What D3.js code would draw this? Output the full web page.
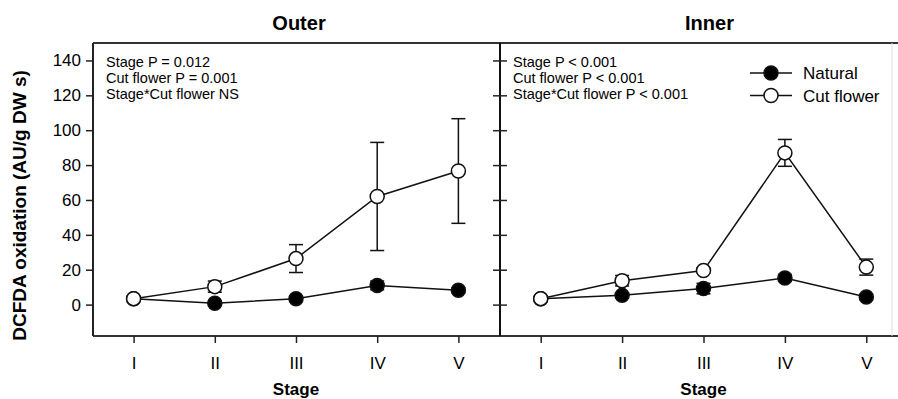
<!DOCTYPE html>
<html>
<head>
<meta charset="utf-8">
<script src="https://cdn.jsdelivr.net/npm/d3@7"></script>
<style>
  body { margin: 0; background: #fff; }
  text { font-family: "Liberation Sans", Arial, sans-serif; fill: #000; }
</style>
</head>
<body>
<svg id="chart" width="898" height="399"></svg>
<script>
// stages on the x axis
var stages = ["I", "II", "III", "IV", "V"];
var yTicks = [0, 20, 40, 60, 80, 100, 120, 140];

// Outer petals
var outerNatural = [3.4, 0.8, 3.4, 11, 8.2];
var outerNaturalErr = [0.5, 1, 1, 2.5, 1.5];
var outerCut = [3.4, 10.3, 26.4, 62, 76.6];
var outerCutErr = [0.5, 3.2, 8, 31, 30];

// Inner petals
var innerNatural = [3.4, 5.3, 9.2, 15.3, 4.4];
var innerNaturalErr = [0.5, 1.5, 3, 2, 1.5];
var innerCut = [3.4, 13.7, 19.5, 87, 21.5];
var innerCutErr = [0.5, 3, 1.5, 7.7, 4.6];

var outerStats = ["Stage P = 0.012", "Cut flower P = 0.001", "Stage*Cut flower NS"];
var innerStats = ["Stage P < 0.001", "Cut flower P < 0.001", "Stage*Cut flower P < 0.001"];

var svg = d3.select("#chart");
var top_ = 43, bottom = 336, left = 93, mid = 500, right = 907;

var y = d3.scaleLinear().domain([-18, 150]).range([bottom, top_]);

var panels = [
  {title: "Outer", x0: left, x1: mid - 1, tdx: 3, nat: outerNatural, natErr: outerNaturalErr,
   cut: outerCut, cutErr: outerCutErr, stats: outerStats},
  {title: "Inner", x0: mid, x1: right, tdx: 6, nat: innerNatural, natErr: innerNaturalErr,
   cut: innerCut, cutErr: innerCutErr, stats: innerStats}
];

// frame lines
svg.append("line").attr("x1", left).attr("x2", 898).attr("y1", top_).attr("y2", top_)
  .attr("stroke", "#333").attr("stroke-width", 2);
svg.append("line").attr("x1", left).attr("x2", 898).attr("y1", bottom).attr("y2", bottom)
  .attr("stroke", "#333").attr("stroke-width", 2);
svg.append("line").attr("x1", 892).attr("x2", 892).attr("y1", top_).attr("y2", bottom)
  .attr("stroke", "#ddd").attr("stroke-width", 1);

// left y axis
var yAxis = d3.axisLeft(y).tickValues(yTicks).tickSize(7).tickPadding(5);
var ga = svg.append("g").attr("transform", "translate(" + left + ",0)").call(yAxis);
ga.select(".domain").attr("stroke", "#222").attr("stroke-width", 2).attr("d", "M0," + top_ + "V" + bottom);
ga.selectAll(".tick line").attr("stroke", "#222").attr("stroke-width", 1.5);
ga.selectAll(".tick text").style("font-size", "17px").attr("font-family", null);

// middle axis with crossing ticks
var yAxis2 = d3.axisLeft(y).tickValues(yTicks).tickSizeInner(-7).tickSizeOuter(0).tickFormat("");
var gm = svg.append("g").attr("transform", "translate(" + mid + ",0)").call(yAxis2);
gm.select(".domain").attr("stroke", "#111").attr("stroke-width", 2).attr("d", "M0," + top_ + "V" + bottom);
gm.selectAll(".tick line").attr("stroke", "#222").attr("stroke-width", 1.5).attr("x1", -7).attr("x2", 7);

svg.append("text")
  .attr("transform", "translate(26," + ((top_ + bottom) / 2 + 16) + ") rotate(-90)")
  .attr("text-anchor", "middle")
  .style("font-size", "19px").style("font-weight", "bold")
  .text("DCFDA oxidation (AU/g DW s)");

panels.forEach(function(p) {
  var x = d3.scalePoint().domain(stages).range([p.x0, p.x1]).padding(0.5);
  var g = svg.append("g");

  var xAxis = d3.axisBottom(x).tickSize(7).tickPadding(14);
  var gx = g.append("g").attr("transform", "translate(0," + bottom + ")").call(xAxis);
  gx.select(".domain").remove();
  gx.selectAll(".tick line").attr("stroke", "#222").attr("stroke-width", 1.5);
  gx.selectAll(".tick text").style("font-size", "17px").attr("font-family", null);

  g.append("text").attr("x", (p.x0 + p.x1) / 2).attr("y", 395)
    .attr("text-anchor", "middle").style("font-size", "17px").style("font-weight", "bold")
    .text("Stage");
  g.append("text").attr("x", (p.x0 + p.x1) / 2 + p.tdx).attr("y", 30)
    .attr("text-anchor", "middle").style("font-size", "20px").style("font-weight", "bold")
    .text(p.title);

  g.selectAll(".stat").data(p.stats).enter().append("text")
    .attr("x", p.x0 + 13).attr("y", function(d, i) { return 67 + i * 16; })
    .style("font-size", "14.5px").text(function(d) { return d; });

  var line = d3.line().x(function(d, i) { return x(stages[i]); }).y(function(d) { return y(d); });

  [[p.nat, p.natErr, "#000"], [p.cut, p.cutErr, "#fff"]].forEach(function(s) {
    var vals = s[0], err = s[1], fill = s[2];
    g.append("path").datum(vals).attr("d", line)
      .attr("fill", "none").attr("stroke", "#111").attr("stroke-width", 1.5);
    var eb = g.append("g").selectAll("g").data(vals).enter().append("g");
    eb.append("line")
      .attr("x1", function(d, i) { return x(stages[i]); })
      .attr("x2", function(d, i) { return x(stages[i]); })
      .attr("y1", function(d, i) { return y(d + err[i]); })
      .attr("y2", function(d, i) { return y(d - err[i]); })
      .attr("stroke", "#111").attr("stroke-width", 1.5);
    [1, -1].forEach(function(sg) {
      eb.append("line")
        .attr("x1", function(d, i) { return x(stages[i]) - 7; })
        .attr("x2", function(d, i) { return x(stages[i]) + 7; })
        .attr("y1", function(d, i) { return y(d + sg * err[i]); })
        .attr("y2", function(d, i) { return y(d + sg * err[i]); })
        .attr("stroke", "#111").attr("stroke-width", 1.5);
    });
    g.selectAll(null).data(vals).enter().append("circle")
      .attr("cx", function(d, i) { return x(stages[i]); })
      .attr("cy", function(d) { return y(d); })
      .attr("r", 7).attr("fill", fill).attr("stroke", "#111").attr("stroke-width", 1.5);
  });
});

// legend
var legend = [["Natural", "#000"], ["Cut flower", "#fff"]];
var lg = svg.append("g").selectAll("g").data(legend).enter().append("g")
  .attr("transform", function(d, i) { return "translate(0," + (73 + i * 22.5) + ")"; });
lg.append("line").attr("x1", 750).attr("x2", 792).attr("stroke", "#111").attr("stroke-width", 1.5);
lg.append("circle").attr("cx", 771).attr("r", 7)
  .attr("fill", function(d) { return d[1]; }).attr("stroke", "#111").attr("stroke-width", 1.5);
lg.append("text").attr("x", 803).attr("dy", "0.36em").style("font-size", "17px")
  .text(function(d) { return d[0]; });
</script>
</body>
</html>
